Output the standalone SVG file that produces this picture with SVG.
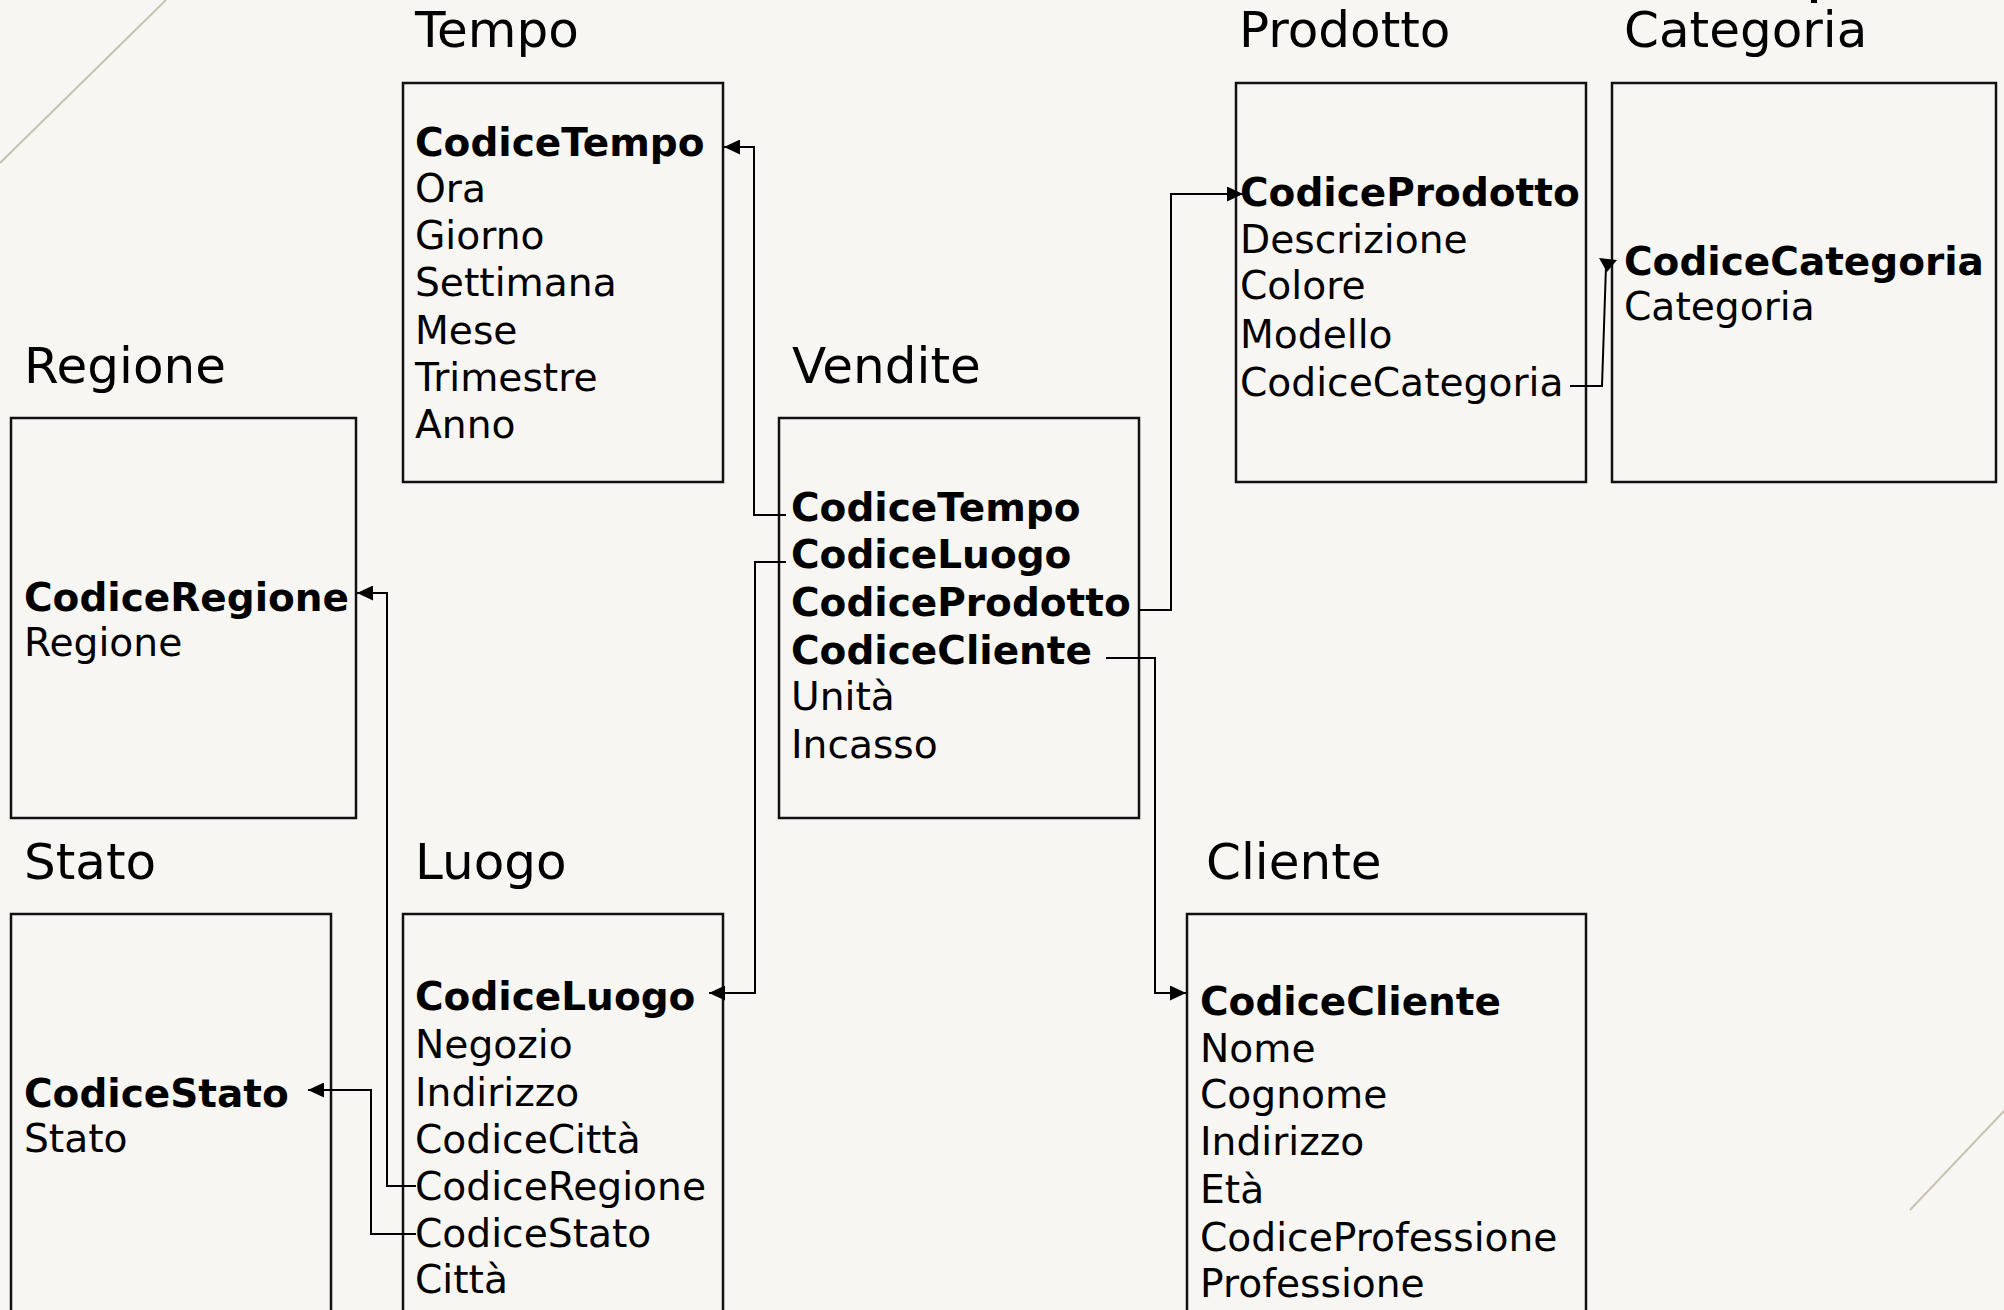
<svg xmlns="http://www.w3.org/2000/svg" width="2004" height="1310" viewBox="0 0 2004 1310">
  <style>
    .box { fill: none; stroke: #111; stroke-width: 2.5; }
    .title { font-family: "DejaVu Sans", Verdana, sans-serif; font-size: 50px; fill: #000; }
    .attr { font-family: "DejaVu Sans", Verdana, sans-serif; font-size: 39.2px; fill: #000; }
    .key { font-weight: bold; font-size: 39px; }
    .link { fill: none; stroke: #000; stroke-width: 2; }
    .deco { stroke: #c8c3b1; stroke-width: 2; fill: none; }
  </style>
  <defs>
    <marker id="arrow" markerUnits="userSpaceOnUse" markerWidth="16" markerHeight="15" refX="16" refY="7.5" orient="auto">
      <path d="M0,0 L16,7.5 L0,15 Z" fill="#000"/>
    </marker>
  </defs>

  <!-- page background and decorative strokes -->
  <rect x="0" y="0" width="2004" height="1310" fill="#f7f6f2"/>
  <line class="deco" x1="166" y1="0" x2="0" y2="163"/>
  <line class="deco" x1="2004" y1="1111" x2="1910" y2="1210"/>
  <rect x="1811" y="0" width="6" height="3" fill="#000"/>

  <!-- dimension and fact tables -->
  <g id="tempo">
    <text class="title" x="415" y="47">Tempo</text>
    <rect class="box" x="403" y="83" width="320" height="399"/>
    <text class="attr">
      <tspan class="key" x="415" y="156">CodiceTempo</tspan>
      <tspan x="415" y="202">Ora</tspan>
      <tspan x="415" y="249">Giorno</tspan>
      <tspan x="415" y="296">Settimana</tspan>
      <tspan x="415" y="344">Mese</tspan>
      <tspan x="415" y="391">Trimestre</tspan>
      <tspan x="415" y="438">Anno</tspan>
    </text>
  </g>

  <g id="prodotto">
    <text class="title" x="1239" y="47">Prodotto</text>
    <rect class="box" x="1236" y="83" width="350" height="399"/>
    <text class="attr">
      <tspan class="key" x="1240" y="206">CodiceProdotto</tspan>
      <tspan x="1240" y="253">Descrizione</tspan>
      <tspan x="1240" y="299">Colore</tspan>
      <tspan x="1240" y="348">Modello</tspan>
      <tspan x="1240" y="396">CodiceCategoria</tspan>
    </text>
  </g>

  <g id="categoria">
    <text class="title" x="1624" y="47">Categoria</text>
    <rect class="box" x="1612" y="83" width="384" height="399"/>
    <text class="attr">
      <tspan class="key" x="1624" y="275">CodiceCategoria</tspan>
      <tspan x="1624" y="320">Categoria</tspan>
    </text>
  </g>

  <g id="regione">
    <text class="title" x="24" y="383">Regione</text>
    <rect class="box" x="11" y="418" width="345" height="400"/>
    <text class="attr">
      <tspan class="key" x="24" y="611">CodiceRegione</tspan>
      <tspan x="24" y="656">Regione</tspan>
    </text>
  </g>

  <g id="vendite">
    <text class="title" x="792" y="383">Vendite</text>
    <rect class="box" x="779" y="418" width="360" height="400"/>
    <text class="attr">
      <tspan class="key" x="791" y="521">CodiceTempo</tspan>
      <tspan class="key" x="791" y="568">CodiceLuogo</tspan>
      <tspan class="key" x="791" y="616">CodiceProdotto</tspan>
      <tspan class="key" x="791" y="664">CodiceCliente</tspan>
      <tspan x="791" y="710">Unità</tspan>
      <tspan x="791" y="758">Incasso</tspan>
    </text>
  </g>

  <g id="stato">
    <text class="title" x="24" y="879">Stato</text>
    <rect class="box" x="11" y="914" width="320" height="420"/>
    <text class="attr">
      <tspan class="key" x="24" y="1107">CodiceStato</tspan>
      <tspan x="24" y="1152">Stato</tspan>
    </text>
  </g>

  <g id="luogo">
    <text class="title" x="415" y="879">Luogo</text>
    <rect class="box" x="403" y="914" width="320" height="420"/>
    <text class="attr">
      <tspan class="key" x="415" y="1010">CodiceLuogo</tspan>
      <tspan x="415" y="1058">Negozio</tspan>
      <tspan x="415" y="1106">Indirizzo</tspan>
      <tspan x="415" y="1153">CodiceCittà</tspan>
      <tspan x="415" y="1200">CodiceRegione</tspan>
      <tspan x="415" y="1247">CodiceStato</tspan>
      <tspan x="415" y="1293">Città</tspan>
    </text>
  </g>

  <g id="cliente">
    <text class="title" x="1206" y="879">Cliente</text>
    <rect class="box" x="1187" y="914" width="399" height="420"/>
    <text class="attr">
      <tspan class="key" x="1200" y="1015">CodiceCliente</tspan>
      <tspan x="1200" y="1062">Nome</tspan>
      <tspan x="1200" y="1108">Cognome</tspan>
      <tspan x="1200" y="1155">Indirizzo</tspan>
      <tspan x="1200" y="1203">Età</tspan>
      <tspan x="1200" y="1251">CodiceProfessione</tspan>
      <tspan x="1200" y="1297">Professione</tspan>
    </text>
  </g>

  <!-- foreign key references -->
  <g id="connectors">
    <path class="link" d="M786,515 H754 V147 H724" marker-end="url(#arrow)"/>
    <path class="link" d="M786,562 H755 V993 H709" marker-end="url(#arrow)"/>
    <path class="link" d="M1139,610 H1171 V194 H1243" marker-end="url(#arrow)"/>
    <path class="link" d="M1106,658 H1155 V993 H1186" marker-end="url(#arrow)"/>
    <path class="link" d="M1570,386 H1602 L1606,266"/>
    <polygon points="1599,258 1617,260 1607,272" fill="#000"/>
    <path class="link" d="M416,1186 H387 V593 H357" marker-end="url(#arrow)"/>
    <path class="link" d="M416,1234 H371 V1090 H308" marker-end="url(#arrow)"/>
  </g>
</svg>
